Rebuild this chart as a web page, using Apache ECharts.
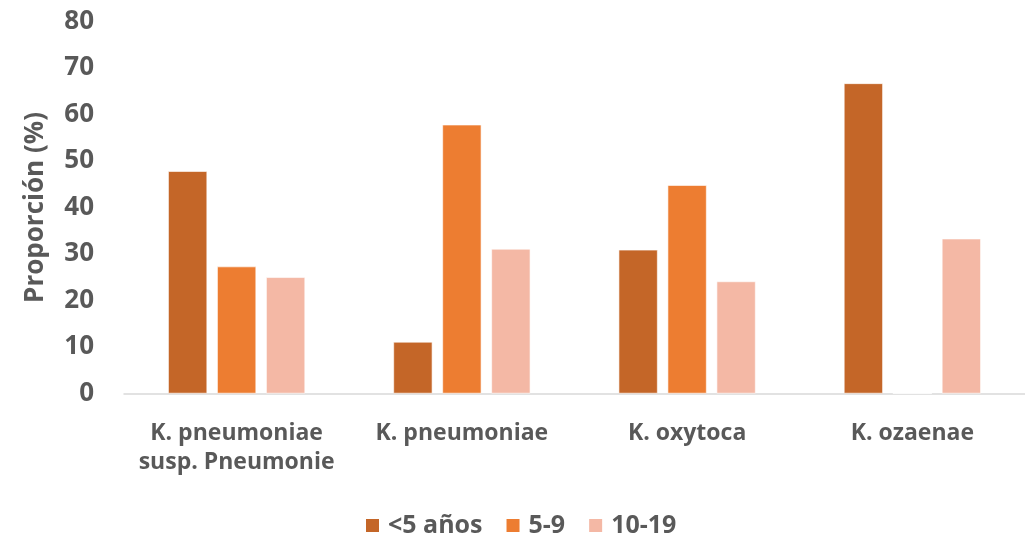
<!DOCTYPE html>
<html>
<head>
<meta charset="utf-8">
<style>
  html, body { margin: 0; padding: 0; background: #ffffff; }
  #chart { width: 1025px; height: 534px; }
</style>
<script src="https://cdn.jsdelivr.net/npm/echarts@6/dist/echarts.min.js"></script>
</head>
<body>
<div id="chart"></div>
<script>
// Species groups on the x axis
const categories = [
  'K. pneumoniae\nsusp. Pneumonie',
  'K. pneumoniae',
  'K. oxytoca',
  'K. ozaenae'
];

// Age groups (legend names)
const seriesNames = ['<5 años', '5-9', '10-19'];

// Proportion (%) per age group, one value per species
const under5 = [47.8, 11.1, 30.9, 66.7];
const age5to9 = [27.3, 57.8, 44.8, 0];
const age10to19 = [25.0, 31.1, 24.1, 33.3];

// Y axis range
const yMin = 0;
const yMax = 80;
const yStep = 10;

const colors = ['#C46628', '#ED7D31', '#F4B8A5'];
const textColor = '#595959';
const fontFamily = '"Open Sans", "Noto Sans", sans-serif';

const chart = echarts.init(document.getElementById('chart'), null, { renderer: 'canvas' });

const values = [under5, age5to9, age10to19];

chart.setOption({
  animation: false,
  backgroundColor: '#ffffff',
  color: colors,
  grid: { left: 124, right: 0, top: 21.5, bottom: 140.5, containLabel: false },
  legend: {
    data: seriesNames,
    left: 359,
    top: 508,
    itemWidth: 15,
    itemHeight: 15,
    itemGap: 22,
    icon: 'rect',
    textStyle: { color: textColor, fontFamily, fontWeight: 'bold', fontSize: 25, padding: [0, 0, 0, 3] }
  },
  xAxis: {
    type: 'category',
    data: categories,
    axisLine: { show: true, lineStyle: { color: '#D9D9D9', width: 1.5 } },
    axisTick: { show: false },
    splitLine: { show: false },
    axisLabel: {
      color: textColor,
      fontFamily,
      fontWeight: 'bold',
      fontSize: 23,
      lineHeight: 29,
      margin: 25,
      interval: 0
    }
  },
  yAxis: {
    type: 'value',
    min: yMin,
    max: yMax,
    interval: yStep,
    name: 'Proporción (%)',
    nameLocation: 'middle',
    nameRotate: 90,
    nameGap: 75,
    nameTextStyle: { color: textColor, fontFamily, fontWeight: 'bold', fontSize: 26 },
    axisLine: { show: false },
    axisTick: { show: false },
    splitLine: { show: false },
    axisLabel: {
      color: textColor,
      fontFamily,
      fontWeight: 'bold',
      fontSize: 26,
      margin: 30
    }
  },
  series: seriesNames.map((name, i) => ({
    name,
    type: 'bar',
    data: values[i],
    barWidth: 39,
    barGap: '25.6%',
    itemStyle: { color: colors[i], borderColor: '#ffffff', borderWidth: 0.6 }
  }))
});
</script>
</body>
</html>
